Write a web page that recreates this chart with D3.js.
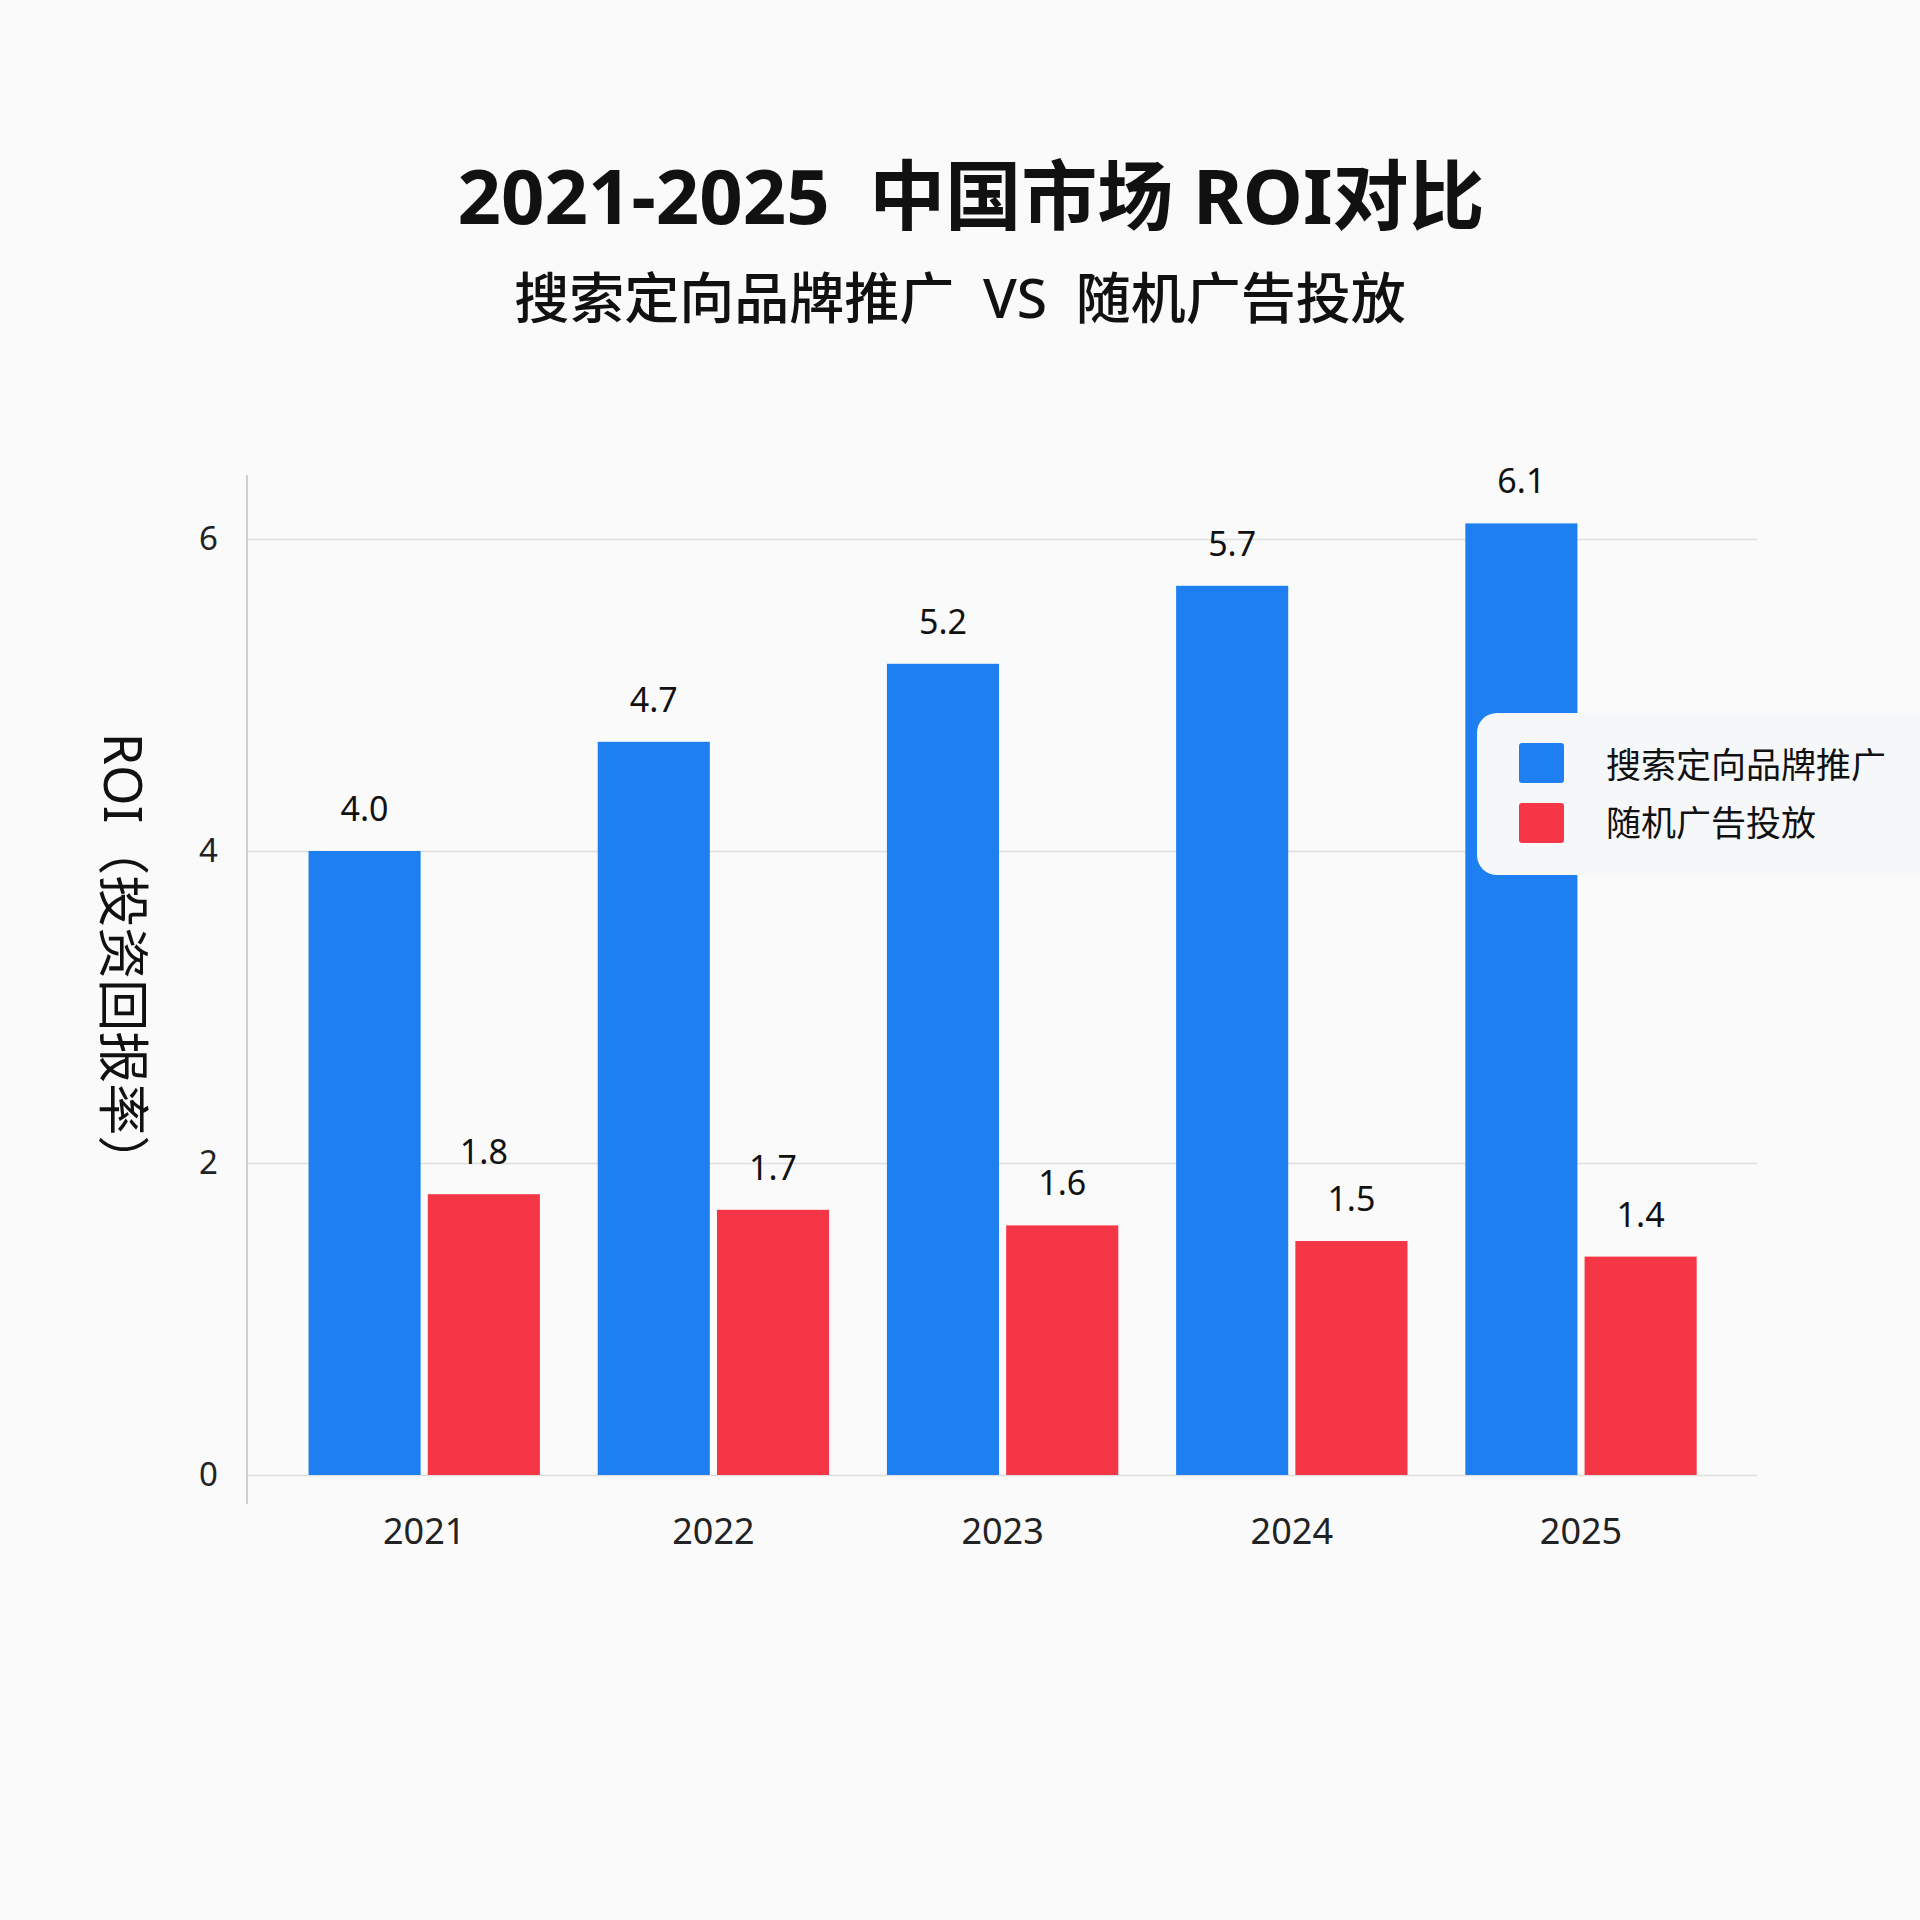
<!DOCTYPE html>
<html>
<head>
<meta charset="utf-8">
<script src="https://cdn.jsdelivr.net/npm/d3@7"></script>
<style>
html,body{margin:0;padding:0;background:#fafafa;}
svg{display:block;}
text{font-family:"Noto Sans","Noto Sans CJK SC",sans-serif;}
</style>
</head>
<body>
<svg id="chart" width="1920" height="1920"></svg>
<script>
const years = ["2021","2022","2023","2024","2025"];
const seriesNames = ["搜索定向品牌推广","随机广告投放"];
const searchROI = [4.0, 4.7, 5.2, 5.7, 6.1];
const randomROI = [1.8, 1.7, 1.6, 1.5, 1.4];
const yTicks = [0, 2, 4, 6];
const colors = ["#1e80f0", "#f53646"];
const title = "2021-2025  中国市场 ROI对比";
const subtitle = "搜索定向品牌推广  VS  随机广告投放";
const yLabel = "ROI（投资回报率）";

const svg = d3.select("#chart");
svg.append("rect").attr("width",1920).attr("height",1920).attr("fill","#fafafa");

const plotLeft = 247, plotRight = 1757;
const y = d3.scaleLinear().domain([0,6]).range([1475,539]);
const x0 = d3.scaleBand().domain(years).range([279.6,1725.6]).paddingInner(0.2).paddingOuter(0.1);
const x1 = d3.scaleBand().domain([0,1]).range([0,x0.bandwidth()]).paddingInner(0.06);

// titles
svg.append("text").attr("x",971).attr("y",224).attr("text-anchor","middle")
  .attr("font-size",76).attr("font-weight",700).attr("fill","#111").style("white-space","pre").text(title);
svg.append("text").attr("x",960).attr("y",318).attr("text-anchor","middle")
  .attr("font-size",55).attr("font-weight",500).attr("fill","#111").style("white-space","pre").text(subtitle);

// grid + y ticks
const yAxis = d3.axisLeft(y).tickValues(yTicks).tickFormat(d3.format("d"))
  .tickSize(-(plotRight-plotLeft)).tickPadding(29);
const gy = svg.append("g").attr("transform",`translate(${plotLeft},0)`).call(yAxis);
gy.select(".domain").remove();
gy.selectAll(".tick line").attr("stroke","#dedede").attr("stroke-width",1.5);
gy.selectAll(".tick text").attr("font-size",33).attr("fill","#222").attr("font-family","'Noto Sans',sans-serif");

// y axis line
svg.append("line").attr("x1",plotLeft).attr("x2",plotLeft).attr("y1",475).attr("y2",1504)
  .attr("stroke","#cfcfcf").attr("stroke-width",2);

// x axis labels
const xAxis = d3.axisBottom(x0).tickSize(0).tickPadding(43);
const gx = svg.append("g").attr("transform",`translate(0,${y(0)})`).call(xAxis);
gx.select(".domain").remove();
gx.selectAll(".tick text").attr("font-size",36).attr("fill","#222").attr("font-family","'Noto Sans',sans-serif");

// bars
const data = years.map((yr,i)=>({year:yr, vals:[searchROI[i], randomROI[i]]}));
const groups = svg.append("g").selectAll("g").data(data).join("g")
  .attr("transform",d=>`translate(${x0(d.year)},0)`);
groups.selectAll("rect").data(d=>d.vals.map((v,k)=>({v,k}))).join("rect")
  .attr("x",d=>x1(d.k)).attr("width",x1.bandwidth())
  .attr("y",d=>y(d.v)).attr("height",d=>y(0)-y(d.v))
  .attr("fill",d=>colors[d.k]);
groups.selectAll("text.val").data(d=>d.vals.map((v,k)=>({v,k}))).join("text")
  .attr("class","val")
  .attr("x",d=>x1(d.k)+x1.bandwidth()/2).attr("y",d=>y(d.v)-30)
  .attr("text-anchor","middle").attr("font-size",34).attr("fill","#111")
  .text(d=>d3.format(".1f")(d.v));

// y label
svg.append("text").attr("transform","translate(104,960) rotate(90)")
  .attr("text-anchor","middle").attr("font-size",52).attr("fill","#111").text(yLabel);

// legend
const lg = svg.append("g");
lg.append("rect").attr("x",1477).attr("y",713).attr("width",460).attr("height",162).attr("rx",20)
  .attr("fill","#f6f7f9");
seriesNames.forEach((name,i)=>{
  lg.append("rect").attr("x",1519).attr("y",743+i*60).attr("width",45).attr("height",40).attr("rx",3)
    .attr("fill",colors[i]);
  lg.append("text").attr("x",1606).attr("y",778+i*58).attr("font-size",35).attr("fill","#111").text(name);
});
</script>
</body>
</html>
